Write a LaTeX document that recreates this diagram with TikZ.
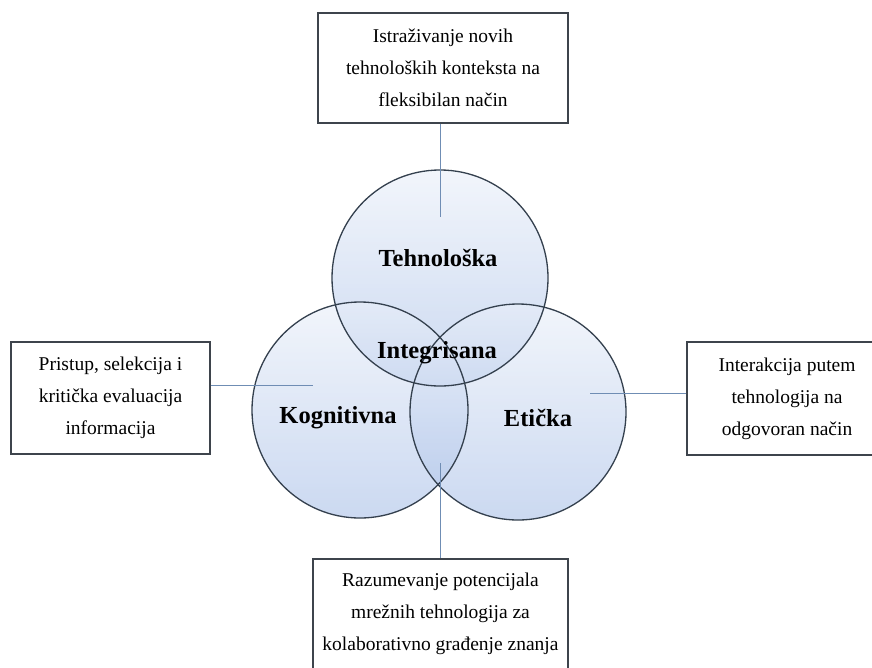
\documentclass[tikz,border=0pt]{standalone}
\usepackage{fontspec}
\setmainfont{Liberation Serif}
\definecolor{ringline}{HTML}{34404E}
\definecolor{connline}{HTML}{6F8DB4}
\definecolor{boxline}{HTML}{3E444C}
\definecolor{ringfill}{HTML}{A9C0E8}
\begin{document}
\begin{tikzpicture}[x=1pt,y=-1pt,
  infobox/.style={draw=boxline, line width=1.4pt, fill=white, align=center,
    font=\fontsize{19.5}{32}\selectfont, inner sep=0pt},
  ringlabel/.style={font=\fontsize{24.5}{28}\selectfont\bfseries, text=black},
  conn/.style={draw=connline, line width=1pt},
  ring/.style={draw=ringline, line width=1.3pt}]
\useasboundingbox (0,0) rectangle (872,667);
\clip (0,0) rectangle (872,667);
\fill[white] (0,0) rectangle (872,667);

% circles (fills)
\foreach \cx/\cy in {440/278, 360/410, 518/412}{
  \shade[top color=ringfill!25, bottom color=ringfill, opacity=0.6]
    (\cx,\cy) circle[radius=108];
}
% circle outlines
\node[ring, circle, minimum size=216pt, inner sep=0pt] (ct) at (440,278) {};
\node[ring, circle, minimum size=216pt, inner sep=0pt] (cl) at (360,410) {};
\node[ring, circle, minimum size=216pt, inner sep=0pt] (cr) at (518,412) {};

% labels
\node[ringlabel] (lt) at (438,258) {Tehnološka};
\node[ringlabel] (li) at (437,353) {Integrisana};
\node[ringlabel] (lk) at (338,418) {Kognitivna};
\node[ringlabel] (le) at (538,418) {Etička};

% boxes
\node[infobox, minimum width=250pt, minimum height=110pt] (tb) at (443,68)
  {Istraživanje novih\\tehnoloških konteksta na\\fleksibilan način};
\node[infobox, minimum width=199pt, minimum height=112pt] (lb) at (110.5,398)
  {Pristup, selekcija i\\kritička evaluacija\\informacija};
\node[infobox, minimum width=200pt, minimum height=113pt] (rb) at (787,398.5)
  {Interakcija putem\\tehnologija na\\odgovoran način};
\node[infobox, minimum width=255pt, minimum height=110pt] (bb) at (440.5,614)
  {Razumevanje potencijala\\mrežnih tehnologija za\\kolaborativno građenje znanja};

% connector ends
\coordinate (et) at (440,217);
\coordinate (el) at (313,385);
\coordinate (er) at (590,393);
\coordinate (eb) at (440,463);

\draw[conn] (tb.south -| et) -- (et);
\draw[conn] (lb.east |- el) -- (el);
\draw[conn] (rb.west |- er) -- (er);
\draw[conn] (eb) -- (bb.north -| eb);
\end{tikzpicture}
\end{document}
